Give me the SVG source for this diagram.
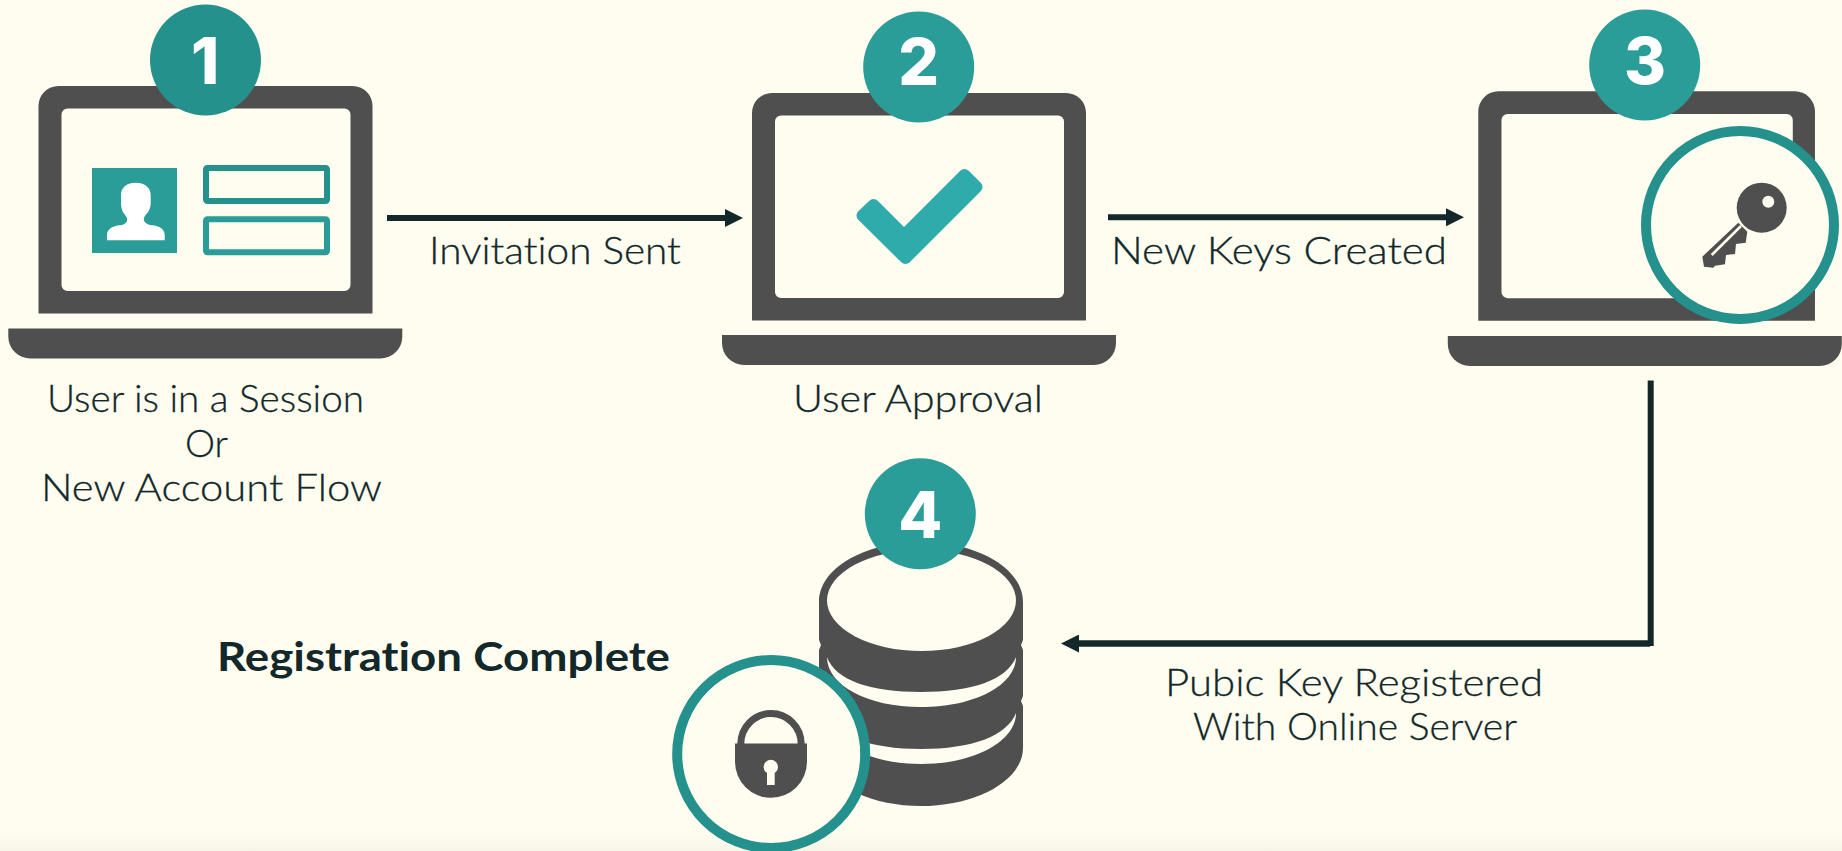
<svg xmlns="http://www.w3.org/2000/svg" xmlns:xlink="http://www.w3.org/1999/xlink" width="1842" height="851" viewBox="0 0 1842 851">
<style>
.dark{fill:#4f4f4f}
.bgf{fill:#fffdef}
.t1{fill:#25918c}
.t2{fill:#2a9d98}
.lbl{font-family:"Lato","Open Sans","Liberation Sans",sans-serif;font-size:37px;font-weight:300;fill:#12282a;stroke:#12282a;stroke-width:.3px;font-variant-ligatures:none}
.bold{font-family:"Lato","Open Sans","Liberation Sans",sans-serif;font-size:41px;font-weight:700;fill:#12282a;font-variant-ligatures:none}
.num{font-family:"Inter","Liberation Sans",sans-serif;font-size:64px;font-weight:800;fill:#fff;text-anchor:middle}
.ring{fill:#fffdef;stroke:#25918c;stroke-width:10}
.conn{fill:none;stroke:#12282a;stroke-width:6}
.box{fill:none;stroke-width:6}
</style>
<defs>
<linearGradient id="fade" x1="0" y1="0" x2="0" y2="1"><stop offset="0" stop-color="#f7f5e8" stop-opacity="0"/><stop offset="1" stop-color="#f7f5e8"/></linearGradient>
<path id="lapBody" class="dark" fill-rule="evenodd" d="M20 0H314A20 20 0 0 1 334 20V227.5H0V20A20 20 0 0 1 20 0ZM29 22.500A6 6 0 0 0 23 28.500V199A6 6 0 0 0 29 205H306A6 6 0 0 0 312 199V28.500A6 6 0 0 0 306 22.500Z"/>
<path id="lapBase" class="dark" d="M0 0H394V8A22 22 0 0 1 372 30H22A22 22 0 0 1 0 8Z"/>
<marker id="arrow" markerUnits="userSpaceOnUse" markerWidth="18" markerHeight="18" refX="0" refY="9" orient="auto"><path d="M0 0L18 9L0 18Z" fill="#12282a"/></marker>
</defs>
<rect width="1842" height="851" class="bgf"/>
<rect y="832" width="1842" height="19" fill="url(#fade)"/>

<g id="connectors">
<path class="conn" d="M387 218H725" marker-end="url(#arrow)"/>
<path class="conn" d="M1108 217.300H1446" marker-end="url(#arrow)"/>
<path class="conn" d="M1650.700 380.500V646"/>
<path class="conn" style="stroke-width:6.500" d="M1650 643.500H1079" marker-end="url(#arrow)"/>
</g>

<g id="node-1">
<use xlink:href="#lapBody" href="#lapBody" x="38.500" y="86"/>
<use xlink:href="#lapBase" href="#lapBase" x="8.300" y="328.500"/>
<rect class="t2" x="92" y="168" width="85" height="85"/>
<path fill="#fff" d="M107 240.300V235C107 229 113 226 120 225.300C126 224.500 128 221 127 218C125 214 121 212 121 203V195C121 187 127 182.700 135.700 182.700C144 182.700 150.700 187 150.700 195V203C150.700 212 145 214 144 218C143 221 146 224.500 152 225.300C159 226 164.700 229 164.700 235V240.300Z"/>
<rect class="box" stroke="#25918c" x="206" y="168" width="121" height="33" rx="1.500"/>
<rect class="box" stroke="#2a9d98" x="206" y="219.300" width="121" height="33" rx="1.500"/>
<circle class="t1" cx="205.500" cy="60" r="55.500"/>
<text class="num" x="205" y="84">1</text>
<text class="lbl" x="47" y="412" textLength="317" lengthAdjust="spacingAndGlyphs">User is in a Session</text>
<text class="lbl" x="185" y="456.500" textLength="43" lengthAdjust="spacingAndGlyphs">Or</text>
<text class="lbl" x="41" y="500.500" textLength="341" lengthAdjust="spacingAndGlyphs">New Account Flow</text>
</g>

<g id="node-2">
<use xlink:href="#lapBody" href="#lapBody" x="752" y="93"/>
<use xlink:href="#lapBase" href="#lapBase" x="722" y="335"/>
<polygon points="873.500,205 904,235.500 964.500,175 976.500,187 905.500,258 862.500,215.500" fill="#2eabaa" stroke="#2eabaa" stroke-width="12" stroke-linejoin="round"/>
<circle class="t2" cx="918.700" cy="67" r="55.500"/>
<text class="num" x="918.700" y="85">2</text>
<text class="lbl" x="793" y="411.700" textLength="250" lengthAdjust="spacingAndGlyphs">User Approval</text>
</g>

<g id="node-3">
<use xlink:href="#lapBody" href="#lapBody" transform="translate(1478.300 91.300) scale(1.008 1.009)"/>
<use xlink:href="#lapBase" href="#lapBase" x="1447.800" y="336"/>
<circle class="t2" cx="1644.700" cy="65" r="55.500"/>
<text class="num" x="1645" y="84">3</text>
<circle class="ring" cx="1740" cy="225" r="94"/>
<g id="key">
<polygon class="dark" points="1738.300,222.700 1702.300,256.700 1704,266.700 1713.300,267.700 1715,265.700 1725,264.300 1726,255 1735,254 1736,244 1745.700,242.700 1747.300,231.700"/>
<path d="M1741 226L1711.700 255" fill="none" stroke="#fffdef" stroke-width="2.500"/>
<circle class="dark" cx="1761.700" cy="207.700" r="25"/>
<circle class="bgf" cx="1768.300" cy="201.700" r="6"/>
</g>
</g>

<g id="node-4">
<path class="dark" d="M819 602C819 568 865 542 921 542C977 542 1023 568 1023 602V640L1021 645L1023 650V696L1021 701L1023 706V748C1023 780 977 806 921 806C865 806 819 780 819 748V706L821 701L819 696V650L821 645L819 640Z"/>
<ellipse class="bgf" cx="921.500" cy="600.500" rx="94.500" ry="50.500"/>
<path class="bgf" d="M827 657C835 680 870 692 921 692C972 692 1007 680 1016 657C1016 685 975 707 921 707C867 707 827 685 827 657Z"/>
<path class="bgf" d="M827 713C835 736 870 749 921 749C972 749 1007 736 1016 713C1016 741 975 764 921 764C867 764 827 741 827 713Z"/>
<circle class="t2" cx="920.300" cy="513.700" r="55.500"/>
<text class="num" x="920.300" y="538">4</text>
<circle class="ring" cx="771.200" cy="754" r="94"/>
<g id="lock">
<path d="M740.800 744A30.200 30.500 0 0 1 801.200 744" fill="none" stroke="#4f4f4f" stroke-width="7"/>
<path class="dark" d="M735 743.500H807V761.500A36 36.300 0 0 1 735 761.500Z"/>
<circle class="bgf" cx="770.800" cy="767" r="7.200"/>
<rect class="bgf" x="767" y="768" width="7.700" height="17"/>
</g>
<text class="bold" x="217" y="671" textLength="453" lengthAdjust="spacingAndGlyphs">Registration Complete</text>
</g>

<g id="connector-labels">
<text class="lbl" x="429" y="264" textLength="252" lengthAdjust="spacingAndGlyphs">Invitation Sent</text>
<text class="lbl" x="1111" y="264" textLength="336" lengthAdjust="spacingAndGlyphs">New Keys Created</text>
<text class="lbl" x="1165" y="696" textLength="378" lengthAdjust="spacingAndGlyphs">Pubic Key Registered</text>
<text class="lbl" x="1193" y="740" textLength="324" lengthAdjust="spacingAndGlyphs">With Online Server</text>
</g>
</svg>
